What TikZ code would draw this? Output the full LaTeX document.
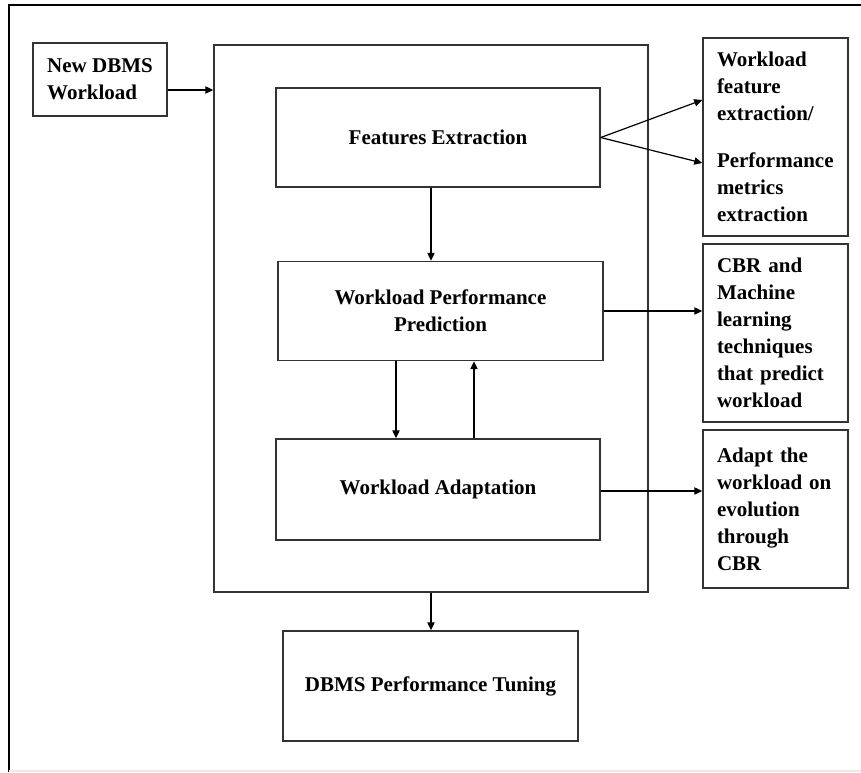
\documentclass[tikz,border=0pt]{standalone}
\usepackage{fontspec}
\setmainfont{Liberation Serif}
\usetikzlibrary{calc, arrows.meta}

\begin{document}
\begin{tikzpicture}[x=0.75pt, y=-0.75pt,
    box/.style={draw=black!80, line width=1.1pt, align=center, inner sep=0pt,
        font=\bfseries\fontsize{15.75}{20.25}\selectfont},
    sidebox/.style={box, align=left, text width=87.75pt, inner xsep=10.5pt,
        minimum height=#1},
    arr/.style={-{Triangle[length=6pt, width=5.5pt]}, line width=0.9pt}]
    \useasboundingbox (0,0) rectangle (861,772);
    % Page frame
    \draw[line width=2pt] (9,772) -- (9,5) -- (861,5);
    \draw[black!8, line width=0.8pt] (9,771) -- (861,771);
    % Input workload
    \node[box, align=left, minimum width=100.5pt, minimum height=54.75pt] (newwl) at (100,79.5) {New DBMS\\Workload};
    % Main block and its stages
    \node[box, minimum width=325.5pt, minimum height=410.25pt] (container) at (431,318.5) {};
    \node[box, minimum width=243pt, minimum height=74.25pt] (fe) at (438,137.5) {Features Extraction};
    \node[box, minimum width=243.75pt, minimum height=74.25pt] (wpp) at (440.5,311) {Workload Performance\\Prediction};
    \node[box, minimum width=243pt, minimum height=75.75pt] (wa) at (438,489.5) {Workload Adaptation};
    \node[box, minimum width=221.25pt, minimum height=82.5pt] (tune) at (430.5,686) {DBMS Performance Tuning};
    % Side notes
    \node[sidebox=148.5pt] (note1) at (775.5,137) {Workload\\feature\\extraction/\\[15pt]Performance\\metrics\\extraction};
    \node[sidebox=133.5pt] (note2) at (775.5,333) {CBR and\\Machine\\learning\\techniques\\that predict\\workload};
    \node[sidebox=118.5pt] (note3) at (775.5,509) {Adapt the\\workload on\\evolution\\through\\CBR};
    % Connectors
    \coordinate (in-y) at (0,90);
    \draw[arr] (newwl.east |- in-y) -- (container.west |- in-y);
    \coordinate (fork1) at ($(note1.west)+(0,-37)$);
    \coordinate (fork2) at ($(note1.west)+(0,26)$);
    \draw[arr] (fe.east) -- (fork1);
    \draw[arr] (fe.east) -- (fork2);
    \coordinate (fe-down) at ($(fe.south)+(-7,0)$);
    \draw[arr] (fe-down) -- (fe-down |- wpp.north);
    \coordinate (wpp-down) at ($(wpp.south)+(-44.5,0)$);
    \draw[arr] (wpp-down) -- (wpp-down |- wa.north);
    \coordinate (wa-up) at ($(wa.north)+(36,0)$);
    \draw[arr] (wa-up) -- (wa-up |- wpp.south);
    \draw[arr] (wpp.east) -- (wpp.east -| note2.west);
    \draw[arr] ($(wa.east)+(0,1.5)$) -- ($(wa.east -| note3.west)+(0,1.5)$);
    \draw[arr] (container.south) -- (container.south |- tune.north);
\end{tikzpicture}
\end{document}
